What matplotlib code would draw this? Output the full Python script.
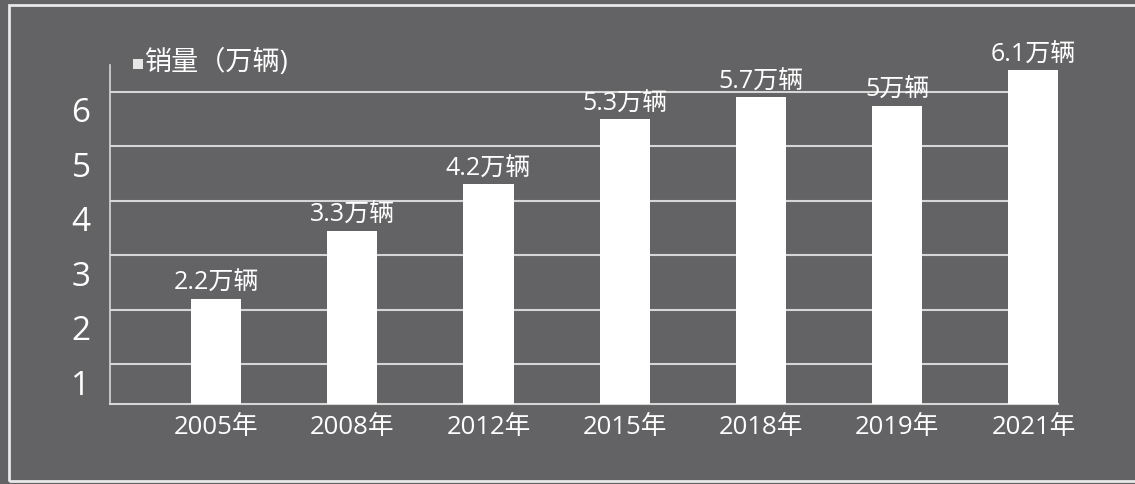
import matplotlib
matplotlib.use("Agg")
import matplotlib.pyplot as plt
import matplotlib.transforms as mtransforms
from matplotlib.patches import Rectangle

# Open Sans for digits (close to the Segoe look), CJK falls back to Noto
plt.rcParams['font.family'] = ['Open Sans', 'Noto Sans CJK SC', 'DejaVu Sans']

# --- data ---
years = ["2005年", "2008年", "2012年", "2015年", "2018年", "2019年", "2021年"]
labels = ["2.2万辆", "3.3万辆", "4.2万辆", "5.3万辆", "5.7万辆", "5万辆", "6.1万辆"]
# bar heights as drawn in the picture (not always equal to the labels)
heights = [2.2, 3.45, 4.3, 5.5, 5.9, 5.75, 6.4]
yticks = [1, 2, 3, 4, 5, 6]
legend_text = "销量（万辆)"

BG = "#636366"
GRID = "#d6d6d6"

fig = plt.figure(figsize=(11.35, 4.84), dpi=100, facecolor=BG)
ax = fig.add_axes([110 / 1135, 80 / 484, 948 / 1135, 339 / 484])
ax.set_facecolor(BG)

x = list(range(len(years)))
bars = ax.bar(x, heights, width=0.37, color="white", zorder=3)

for b, lab in zip(bars, labels):
    ax.annotate(lab, (b.get_x() + b.get_width() / 2, b.get_height()),
                xytext=(0, 2), textcoords="offset points",
                ha="center", va="bottom", color="white", fontsize=18, zorder=4)

ax.set_xlim(-0.778, 6.18)
ax.set_ylim(0.265, 6.496)

ax.set_yticks(yticks)
ax.set_yticklabels([str(t) for t in yticks])
ax.yaxis.grid(True, color=GRID, linewidth=1.5, zorder=1)
ax.set_axisbelow(True)
ax.tick_params(axis="y", length=0, pad=14, labelsize=24, labelcolor="white")
# labels sit below their gridline in the reference
offset = mtransforms.ScaledTranslation(0, -0.18, fig.dpi_scale_trans)
for t in ax.get_yticklabels():
    t.set_transform(t.get_transform() + offset)

ax.set_xticks(x)
ax.set_xticklabels(years)
ax.tick_params(axis="x", length=0, pad=8, labelsize=18.5, labelcolor="white")

for s in ["top", "right"]:
    ax.spines[s].set_visible(False)
ax.spines["left"].set_color(GRID)
ax.spines["left"].set_linewidth(1.2)
ax.spines["bottom"].set_color(GRID)
ax.spines["bottom"].set_linewidth(1.5)

# legend
fig.patches.append(Rectangle((133 / 1135, 1 - 69 / 484), 10 / 1135, 10 / 484,
                             transform=fig.transFigure, facecolor="#e6e6e6",
                             edgecolor="none", figure=fig))
fig.text(145 / 1135, 1 - 63 / 484, legend_text, color="white", fontsize=19.5,
         ha="left", va="center")

# outer frame (right side runs off the picture)
fig.patches.append(Rectangle((9 / 1135, 3 / 484), 1.2, 476 / 484,
                             transform=fig.transFigure, facecolor="none",
                             edgecolor="#e8e8e8", linewidth=2, figure=fig))

fig.savefig("out.png", dpi=100, facecolor=BG)
